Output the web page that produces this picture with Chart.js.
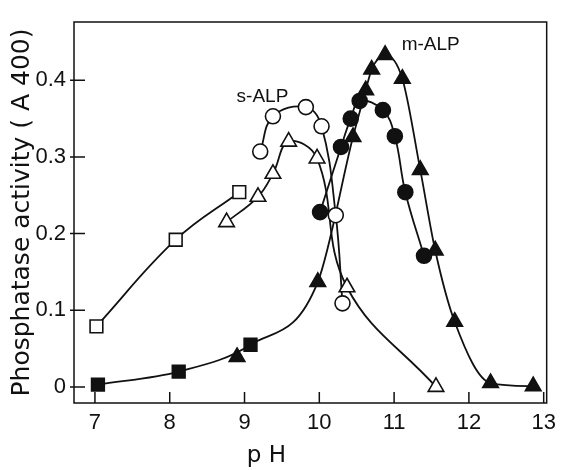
<!DOCTYPE html>
<html><head><meta charset="utf-8">
<script src="https://cdn.jsdelivr.net/npm/chart.js@4"></script>
<style>html,body{margin:0;padding:0;background:#fff}#wrap{width:563px;height:470px}</style>
</head><body><div id="wrap"><canvas id="c" width="563" height="470"></canvas></div>
<script>
// ---- data ----
const xTicks = [7, 8, 9, 10, 11, 12, 13];
const yTicks = [0, 0.1, 0.2, 0.3, 0.4];

const openSquarePH  = [7.02, 8.08, 8.93];
const openSquareAct = [0.079, 0.192, 0.254];

const filledSquarePH  = [7.04, 8.12, 9.08];
const filledSquareAct = [0.003, 0.020, 0.055];

const openCirclePH  = [9.21, 9.38, 9.82, 10.03, 10.22, 10.31];
const openCircleAct = [0.307, 0.353, 0.365, 0.340, 0.224, 0.109];

const openTrianglePH  = [8.76, 9.18, 9.38, 9.59, 9.97, 10.37, 11.56];
const openTriangleAct = [0.215, 0.248, 0.278, 0.320, 0.298, 0.130, 0.000];

const filledCirclePH  = [10.01, 10.29, 10.42, 10.54, 10.85, 11.01, 11.15, 11.40];
const filledCircleAct = [0.228, 0.313, 0.350, 0.373, 0.361, 0.327, 0.254, 0.171];

const filledTrianglePH  = [8.90, 9.98, 10.45, 10.62, 10.70, 10.88, 11.11, 11.35, 11.55, 11.81, 12.29, 12.86];
const filledTriangleAct = [0.039, 0.137, 0.326, 0.387, 0.414, 0.433, 0.402, 0.283, 0.178, 0.085, 0.005, 0.001];

const noteTexts = ['s-ALP', 'm-ALP'];
const notePH    = [9.24, 11.49];
const noteAct   = [0.379, 0.446];

// ---- build ----
const pts = (xs, ys) => xs.map((x, i) => ({x: x, y: ys[i]}));
const lowerCurve = pts(filledSquarePH, filledSquareAct)
  .concat(pts(filledTrianglePH.slice(1), filledTriangleAct.slice(1)))
  .sort((a, b) => a.x - b.x);

const INK = '#111';
function curve(data, mono) {
  const d = {data: data, showLine: true, borderColor: INK, borderWidth: 1.8, tension: 0.4,
          pointRadius: 0, pointHoverRadius: 0, fill: false, order: 2};
  if (mono) d.cubicInterpolationMode = 'monotone';
  return d;
}
function marks(data, style, filled, r) {
  return {data: data, showLine: false, pointStyle: style, pointRadius: r, pointHoverRadius: r,
          pointBackgroundColor: filled ? INK : '#fff', pointBorderColor: INK,
          pointBorderWidth: 1.6, order: 1};
}

const datasets = [
  marks(pts(openSquarePH, openSquareAct), 'rect', false, 9),
  marks(pts(filledSquarePH, filledSquareAct), 'rect', true, 9),
  marks(pts(openCirclePH, openCircleAct), 'circle', false, 7.5),
  marks(pts(openTrianglePH, openTriangleAct), 'triangle', false, 9),
  marks(pts(filledCirclePH, filledCircleAct), 'circle', true, 7.5),
  marks(pts(filledTrianglePH, filledTriangleAct), 'triangle', true, 9),
  curve(pts(openSquarePH, openSquareAct)),
  curve(pts(openCirclePH, openCircleAct)),
  curve(pts(openTrianglePH, openTriangleAct)),
  curve(pts(filledCirclePH, filledCircleAct)),
  curve(lowerCurve, true)
];

const framePlugin = {
  id: 'frame',
  beforeDatasetsDraw(chart) {
    const ctx = chart.ctx, a = chart.chartArea;
    const xs = chart.scales.x, ys = chart.scales.y;
    ctx.save();
    ctx.strokeStyle = INK;
    ctx.lineWidth = 1.5;
    ctx.strokeRect(a.left, a.top, a.right - a.left, a.bottom - a.top);
    ctx.beginPath();
    xTicks.forEach(v => {
      const px = xs.getPixelForValue(v);
      ctx.moveTo(px, a.bottom); ctx.lineTo(px, a.bottom - 11);
    });
    yTicks.forEach(v => {
      const py = ys.getPixelForValue(v);
      ctx.moveTo(a.left - 4, py); ctx.lineTo(a.left + 11, py);
    });
    ctx.stroke();
    ctx.restore();
  },
  afterDraw(chart) {
    const ctx = chart.ctx;
    const xs = chart.scales.x, ys = chart.scales.y;
    ctx.save();
    ctx.fillStyle = INK;
    ctx.textAlign = 'center';
    ctx.textBaseline = 'middle';
    ctx.font = '19px "Liberation Sans", Arial, sans-serif';
    noteTexts.forEach((t, i) => {
      ctx.fillText(t, xs.getPixelForValue(notePH[i]), ys.getPixelForValue(noteAct[i]));
    });
    ctx.restore();
  }
};

new Chart(document.getElementById('c'), {
  type: 'scatter',
  data: {datasets: datasets},
  plugins: [framePlugin],
  options: {
    responsive: false,
    devicePixelRatio: 1,
    animation: false,
    layout: {padding: {left: 7, right: 13, top: 22, bottom: 0}},
    plugins: {legend: {display: false}, tooltip: {enabled: false}},
    scales: {
      x: {
        type: 'linear', min: 6.72, max: 13.04,
        afterBuildTicks: s => { s.ticks = xTicks.map(v => ({value: v})); },
        afterFit: s => { s.height = 67; },
        grid: {display: false, drawTicks: false},
        border: {display: false},
        ticks: {padding: 7, color: INK, font: {family: '"Liberation Sans", Arial, sans-serif', size: 22},
                callback: v => String(v)},
        title: {display: true, text: 'p H            ', color: INK, padding: {top: 0, bottom: 0},
                font: {family: '"DejaVu Sans", sans-serif', size: 23}}
      },
      y: {
        type: 'linear', min: -0.021, max: 0.476,
        afterBuildTicks: s => { s.ticks = yTicks.map(v => ({value: v})); },
        afterFit: s => { s.width = 67; },
        grid: {display: false, drawTicks: false},
        border: {display: false},
        ticks: {padding: 8, color: INK, font: {family: '"Liberation Sans", Arial, sans-serif', size: 22},
                callback: v => (v === 0 ? '0' : v.toFixed(1))},
        title: {display: true, text: 'Phosphatase activity ( A 400)', color: INK, padding: {top: 0, bottom: 0},
                font: {family: '"DejaVu Sans", sans-serif', size: 25}}
      }
    }
  }
});
</script>
</body></html>
